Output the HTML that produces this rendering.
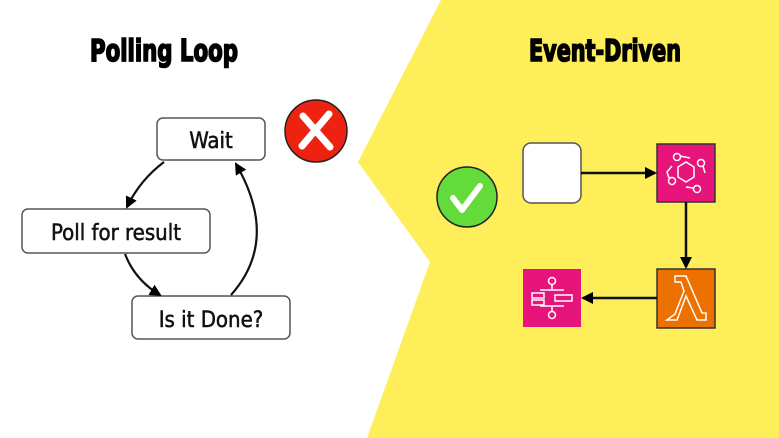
<!DOCTYPE html>
<html><head><style>
html,body{margin:0;padding:0;background:#fff;}
svg{display:block}
</style></head><body>
<svg width="779" height="438" viewBox="0 0 779 438" xmlns="http://www.w3.org/2000/svg">
<defs>
<marker id="ah" markerWidth="12" markerHeight="12" refX="10" refY="6" orient="auto" markerUnits="userSpaceOnUse">
<path d="M0,0 L12,6 L0,12 Z" fill="#000"/>
</marker>
</defs>
<rect width="779" height="438" fill="#fff"/>
<polygon points="441,0 779,0 779,438 367,438 430,262 358,162" fill="#FEEF5A"/>
<g font-family="'DejaVu Sans Condensed','DejaVu Sans',sans-serif" font-weight="bold" font-size="30" fill="#000" stroke="#000" stroke-width="1.6">
<text x="90" y="61" textLength="148" lengthAdjust="spacingAndGlyphs">Polling Loop</text>
<text x="529" y="61" textLength="152" lengthAdjust="spacingAndGlyphs">Event-Driven</text>
</g>
<g fill="#fff" stroke="#555" stroke-width="1.5">
<rect x="157" y="118" width="108" height="42" rx="6"/>
<rect x="22" y="209" width="188" height="44" rx="6"/>
<rect x="132" y="296" width="158" height="43" rx="6"/>
</g>
<g font-family="'DejaVu Sans Condensed','Liberation Sans',sans-serif" font-size="22" fill="#111" stroke="#111" stroke-width="0.5" text-anchor="middle">
<text x="211" y="148">Wait</text>
<text x="116" y="240">Poll for result</text>
<text x="211" y="327">Is it Done?</text>
</g>
<g fill="none" stroke="#111" stroke-width="2.2">
<path d="M164,162 Q140,180 127,207" marker-end="url(#ah)"/>
<path d="M125,254 Q135,280 160,295" marker-end="url(#ah)"/>
<path d="M231,295 Q280,240 236,164" marker-end="url(#ah)"/>
</g>
<circle cx="316" cy="131" r="31" fill="#EE2211" stroke="#222" stroke-width="1.5"/>
<path d="M303,116 L330,147 M329,114 L302,146" stroke="#fff" stroke-width="7" stroke-linecap="round"/>
<circle cx="467" cy="197" r="30" fill="#63DB3A" stroke="#222" stroke-width="1.5"/>
<path d="M453,198 L462,210 L480,186" fill="none" stroke="#fff" stroke-width="6" stroke-linecap="round" stroke-linejoin="round"/>
<rect x="523" y="143" width="58" height="60" rx="8" fill="#fff" stroke="#555" stroke-width="1.5"/>
<rect x="657" y="144" width="58" height="58" fill="#E7157B" stroke="#333" stroke-width="1.5"/>
<rect x="657" y="269" width="58" height="59" fill="#ED7100" stroke="#333" stroke-width="1.5"/>
<rect x="523" y="269" width="58" height="58" fill="#E7157B"/>
<g fill="none" stroke="#fff" stroke-width="1.5">
<polygon points="686,162 694,167 694,177 686,182 678,177 678,167"/>
<circle cx="677" cy="157" r="3.5"/><circle cx="701" cy="163" r="3.5"/><circle cx="672" cy="181" r="3.5"/><circle cx="697" cy="189" r="3.5"/>
<path d="M680,156 L690,158 M703,166 L705,173 M669,178 L667,172 L672,166 M693,188 L686,187"/>
<path d="M675,314 L684,291 L681,282 L675,282 L675,276 L686,276 L702,313 L706,313 L706,320 L697,320 L686,296 L677,320 L667,320 Z"/>
<circle cx="552" cy="281" r="3.5"/><circle cx="552" cy="315" r="3.5"/>
<path d="M552,285 L552,290 M552,311 L552,306 M540,290 L564,290 M540,306 L564,306"/>
<rect x="532" y="293" width="12" height="5"/><rect x="532" y="300" width="12" height="5"/><rect x="555" y="295" width="17" height="6"/>
</g>
<g stroke="#111" stroke-width="2.5" fill="none">
<line x1="581" y1="173" x2="655" y2="173" marker-end="url(#ah)"/>
<line x1="686" y1="202" x2="686" y2="267" marker-end="url(#ah)"/>
<line x1="657" y1="298" x2="583" y2="298" marker-end="url(#ah)"/>
</g>
</svg>
</body></html>
